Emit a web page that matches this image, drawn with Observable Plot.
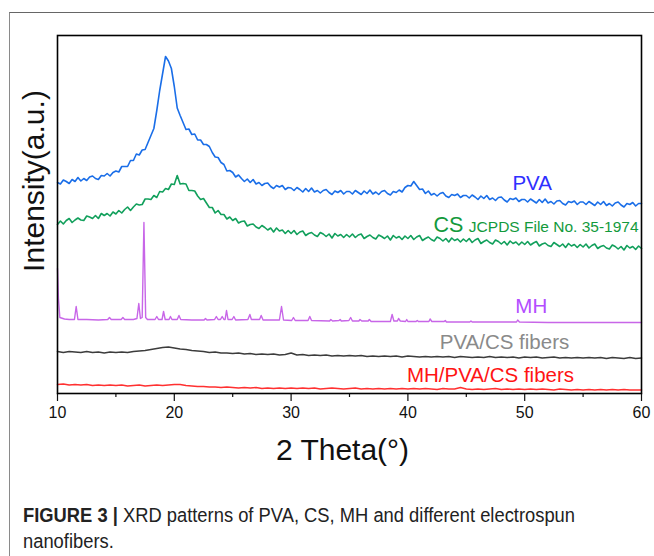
<!DOCTYPE html>
<html>
<head>
<meta charset="utf-8">
<script src="https://cdn.jsdelivr.net/npm/d3@7"></script>
<script src="https://cdn.jsdelivr.net/npm/@observablehq/plot@0.6"></script>
<style>
  html, body { margin: 0; padding: 0; background: #fff; width: 654px; height: 556px; overflow: hidden; }
  #outer { position: absolute; left: 9px; top: 12px; right: 0; bottom: 0; border-top: 1.5px solid #666; border-left: 1px solid #8a8a8a; }
  #chart { position: absolute; left: 0; top: 0; }
  #ylabel { position: absolute; left: 34px; top: 181px; transform: translate(-50%, -50%) rotate(-90deg); white-space: nowrap; font-family: "Liberation Sans", Arial, sans-serif; font-size: 30px; color: #111; }
  #caption { position: absolute; left: 23px; top: 502px; white-space: nowrap; font-family: "Liberation Sans", Arial, sans-serif; font-size: 20px; line-height: 26px; color: #222; transform-origin: 0 0; }
  #caption b { font-weight: bold; }
</style>
</head>
<body>
<div id="outer"></div>
<div id="chart"></div>
<div id="ylabel">Intensity(a.u.)</div>
<div id="caption"><span id="cap1"><b>FIGURE 3 |</b> XRD patterns of PVA, CS, MH and different electrospun</span><br>nanofibers.</div>
<script>
// PVA and CS scans: 2θ from 10° to 60° every 0.25°, intensity in a.u. (stacked offsets as in the figure)
const scanTheta = d3.range(10, 60.0001, 0.25);
const pvaIntensity = [
  211,209.5,213.5,212,210,214,212,216,212.5,215,213,216.5,217.5,215,214,218,217.5,220,217.5,221,
  222.5,221.5,227,227,227,233,233,239.5,238.5,243.5,244,251,258,265,283,303,320,337,332.5,325,
  307,285.5,278,271,264,264.5,259,259.5,253.5,253.5,249,249,247,241,236.5,236,231,229,222.5,223,
  221,216.5,218.5,215,212,214.5,211,214,209.5,211,208,210,210.5,207,205,208,206.5,208,204,206,
  205.5,203,206,204,201.5,205,202,205.5,201.5,203,200.5,203,204,201,199,202.5,201,203,199.5,202,
  202,199.5,203,201,199,202.5,200,203.5,199.5,201.5,199,202,203,200,198.5,202,201,203.5,201.5,206,
  208,207.5,212,208,204,204.5,200,202.5,198.5,200,197.5,200,201,197.5,196,199,198,199.5,196,198,
  198,195.5,198.5,196.5,194,197.5,195,198,194,195.5,193,196,196.5,193.5,191.5,195,194,195.5,192,194,
  194,191.5,194.5,192.5,190.5,194,191,194.5,190.5,192,189.5,192.5,193,190,188.5,192,191,192.5,189,191.5,
  191.5,189,192,190,188,191.5,189,192,188,190,187.5,190.5,191.5,188.5,186.5,190,189,191,187.5,190,
  190];
const csIntensity = [
  169,172.5,169.5,173,175,171,173.5,175.5,173.5,173,177.5,176.5,175,178,175,180,178,180,177.5,181.5,
  179.5,183,180.5,184,186.5,183,186.5,189.5,188.5,189,194.5,194.5,194,198,196,202,201.5,205,204,209.5,
  209,218,209.5,210,209.5,203,203,202.5,197.5,194,195,190.5,186,186,180.5,183,179,179,174.5,176.5,
  173,175,170.5,172,172.5,167.5,169,169.5,166.5,165,168,166,163.5,165.5,161.5,165.5,162.5,163.5,160,163,
  160,163,159,161.5,162.5,158,160,161,158.5,157,161,159.5,157,159.5,155.5,160,157.5,159,156,159,
  156.5,159.5,156,158.5,159.5,155,157,158.5,156,154.5,158.5,157,155,157.5,153.5,158,155.5,157,154,157.5,
  155,158,154,156.5,158,153,155,156.5,154,152.5,156.5,155,152.5,155,151.5,155.5,153,154.5,151.5,154.5,
  152,155,151,153.5,155,150,152,153.5,151,149.5,153.5,152,149.5,152,148.5,152.5,150,151.5,148.5,151.5,
  149,152,148.5,150.5,152,147.5,149.5,150.5,148,147,151,149,147,149.5,146,150,147.5,149,146,149,
  146.5,149.5,145.5,148,149.5,145,147,148,145.5,144.5,148.5,147,144.5,147,143.5,148,145.5,147,144,147.5,
  145];

// MH: [2θ, intensity] around each diffraction peak
const mh = [[10,125],[10.08,95],[10.2,76],[10.6,74.5],[11,74],[11.45,74],[11.6,87],[11.75,74],[12.5,74],[13.5,73.5],[14.3,74],[14.45,76],[14.6,74],[15.45,74],[15.6,76],[15.75,74],[16.5,74],[16.8,75],[16.96,90],[17.1,75],[17.25,76],[17.4,171],[17.55,76],[17.7,74],[18.35,74],[18.5,77],[18.65,74],[18.95,74],[19.08,82],[19.22,74],[19.55,74],[19.67,77],[19.8,74],[20.25,74],[20.4,78],[20.55,74],[21.5,73.5],[22.55,73.5],[22.67,75],[22.8,73.5],[23.45,74],[23.6,77],[23.75,74],[23.95,74],[24.1,77],[24.25,74],[24.35,74],[24.47,83],[24.6,74],[24.95,74],[25.1,77],[25.25,73.5],[26.3,74],[26.47,79],[26.6,74],[27.3,74],[27.44,78],[27.6,73.5],[29,73.5],[29.18,87],[29.35,73.5],[30.05,73],[30.2,76],[30.35,73],[31.45,73],[31.6,77],[31.75,73],[33.3,72.5],[33.4,74],[33.55,72.5],[34.1,73],[34.2,74],[34.3,72.5],[34.95,73],[35.1,76],[35.25,72.5],[35.8,72.5],[35.9,74],[36.05,72.5],[36.6,72.5],[36.7,74],[36.85,72],[38.5,72],[38.65,79],[38.8,72.5],[39.1,72.5],[39.2,75],[39.35,72.5],[39.8,72],[39.9,74],[40,72],[40.7,72],[40.8,73],[40.9,72],[41.8,72],[41.9,74.5],[42.05,72],[43.1,72],[43.2,73],[43.3,71.5],[45.3,71.5],[45.4,72.5],[45.5,71.5],[49.3,71.5],[49.4,73.5],[49.55,71.5],[52,71],[55,71],[57,71],[60,71]];

// PVA/CS fibers and MH/PVA/CS fibers, sampled every 0.5° from 10° to 60°
const fiberTheta = d3.range(10, 60.0001, 0.5);
const pvaCsFibers = [42,41,42,41.5,41,42,41,41.5,40.5,41.5,41,
  41.5,41,42,42.5,43,44,45,46,46.5,45.5,
  44.5,44,43,42.5,42,41,41.5,40.5,40.5,40,
  40.5,39.5,40,39,39.5,39,39.5,38.5,39,40.5,
  38.5,39,38,38.5,38,38.5,37.5,38,37.5,38,
  37.5,38,37,37.5,37,37.5,37,37.5,36.5,37.5,
  37,36.5,37,36.5,37,36.5,37,36,37,36.5,
  36,36.5,36,37,36,36.5,36,36.5,35.5,36.5,
  36,36.5,35.5,36,36.5,35.5,36,35.5,36,35.5,
  36,35.5,36,35,36,35.5,35,36,35,35.5];
const mhPvaCsFibers = [9,9.5,8.5,9,8.5,9,8,8.5,8,8.5,8,
  8.5,7.5,8,8.5,7.5,8,8.5,8,8.5,9,
  9,8,7.5,7,7,6.5,6.5,6,6.5,6,
  5.5,6,5.5,6,5,5.5,5,5.5,5,5.5,
  5,5.5,5,5.5,4.5,5,5.5,5,4.5,5,
  5.5,4.5,5,4.5,5,4.5,5,4.5,5,4.5,
  5,4.5,5,4.5,4,5,4.5,4.5,6,4.5,
  4,4.5,4,4.5,5,4,4.5,4,4.5,4,
  4.5,4,4.5,4,3.5,4.5,4,3.5,4,3.5,
  4,3.5,4,3.5,4,3.5,4,3.5,3.5,3.5];

const majorTicks = [10, 20, 30, 40, 50, 60];
const minorTicks = [15, 25, 35, 45, 55];

const seriesLabels = [
  {t: 50.64, v: 210, text: "PVA", color: "#2f2fff", anchor: "middle", size: 20.5},
  {t: 42.2, v: 168, text: "CS", color: "#139a3c", anchor: "start", size: 21.5},
  {t: 59.75, v: 166.5, text: "JCPDS File No. 35-1974", color: "#139a3c", anchor: "end", size: 15.5},
  {t: 50.56, v: 87, text: "MH", color: "#b34dff", anchor: "middle", size: 20.5},
  {t: 48.27, v: 51.5, text: "PVA/CS fibers", color: "#8a8a8a", anchor: "middle", size: 20.5},
  {t: 47.07, v: 18, text: "MH/PVA/CS fibers", color: "#ff1414", anchor: "middle", size: 20.5}
];

const pva = scanTheta.map((t, i) => [t, pvaIntensity[i]]);
const cs = scanTheta.map((t, i) => [t, csIntensity[i]]);
const fibers1 = fiberTheta.map((t, i) => [t, pvaCsFibers[i]]);
const fibers2 = fiberTheta.map((t, i) => [t, mhPvaCsFibers[i]]);

const chart = Plot.plot({
  width: 654,
  height: 470,
  marginLeft: 57,
  marginRight: 13,
  marginTop: 35,
  marginBottom: 77,
  style: {fontFamily: "'Liberation Sans', Arial, sans-serif", background: "transparent", color: "#111"},
  x: {domain: [10, 60]},
  y: {domain: [0, 358], axis: null},
  marks: [
    Plot.axisX(minorTicks, {tickSize: 4, tickFormat: () => "", strokeWidth: 1.2, label: null}),
    Plot.axisX(majorTicks, {tickSize: 8, tickPadding: 5, fontSize: 16, strokeWidth: 1.2, label: null}),
    Plot.line(fibers2, {x: d => d[0], y: d => d[1], stroke: "#ff3030", strokeWidth: 1.5}),
    Plot.line(fibers1, {x: d => d[0], y: d => d[1], stroke: "#3c3c3c", strokeWidth: 1.5}),
    Plot.line(mh, {x: d => d[0], y: d => d[1], stroke: "#c866e8", strokeWidth: 1.4}),
    Plot.line(cs, {x: d => d[0], y: d => d[1], stroke: "#12a05c", strokeWidth: 1.6}),
    Plot.line(pva, {x: d => d[0], y: d => d[1], stroke: "#1a6ee8", strokeWidth: 1.6}),
    Plot.frame({stroke: "#000", strokeWidth: 1.6}),
    ...seriesLabels.map(l => Plot.text([l], {x: "t", y: "v", text: "text", fill: l.color, textAnchor: l.anchor, fontSize: l.size})),
    Plot.text(["2 Theta(°)"], {text: d => d, frameAnchor: "bottom", dy: 66, dx: -7, fontSize: 30, fill: "#111"})
  ]
});
document.getElementById("chart").appendChild(chart);

// fit the first caption line to the width it has in the figure
const cap = document.getElementById("caption");
const w = document.getElementById("cap1").getBoundingClientRect().width;
cap.style.transform = `scaleX(${552 / w})`;
</script>
</body>
</html>
